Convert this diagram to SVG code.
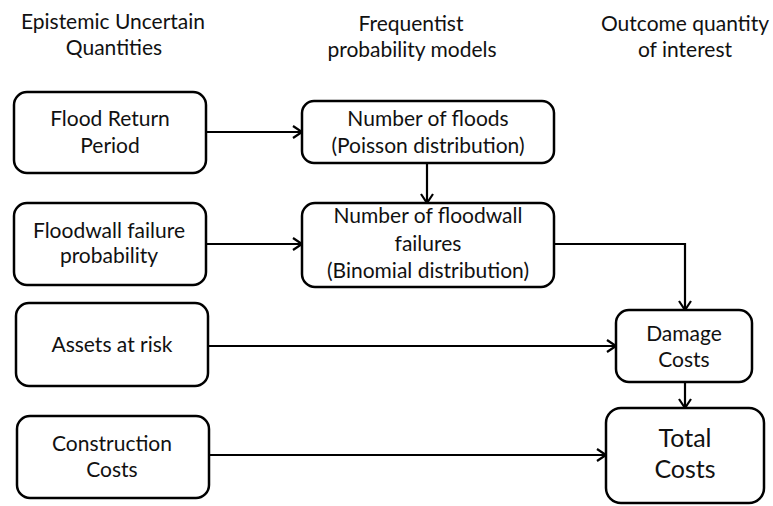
<svg xmlns="http://www.w3.org/2000/svg" width="773" height="506" viewBox="0 0 773 506">
<style>
.box{fill:#fff;stroke:#000;stroke-width:2.5}
.t{font-family:Lato,"Liberation Sans",sans-serif;font-size:21px;fill:#111;text-anchor:middle}
.big{font-size:25px}
.c{fill:none;stroke:#000;stroke-width:2.2}
</style>
<defs>
<marker id="ah" markerUnits="userSpaceOnUse" markerWidth="12" markerHeight="14" refX="10" refY="7" orient="auto">
<path d="M1,1 L10,7 L1,13" fill="none" stroke="#000" stroke-width="2.2"/>
</marker>
</defs>
<rect width="773" height="506" fill="#fff"/>
<g id="headers">
<text class="t" x="113" y="29">Epistemic Uncertain</text>
<text class="t" x="114" y="55">Quantities</text>
<text class="t" x="411" y="31">Frequentist</text>
<text class="t" x="412" y="57">probability models</text>
<text class="t" x="685" y="31">Outcome quantity</text>
<text class="t" x="685" y="57">of interest</text>
</g>
<g id="connectors">
<path class="c" d="M206,132 H302" marker-end="url(#ah)"/>
<path class="c" d="M206,244 H302" marker-end="url(#ah)"/>
<path class="c" d="M427,163 V203" marker-end="url(#ah)"/>
<path class="c" d="M554,244 H685 V310" marker-end="url(#ah)"/>
<path class="c" d="M208,346 H616" marker-end="url(#ah)"/>
<path class="c" d="M685,382 V408" marker-end="url(#ah)"/>
<path class="c" d="M209,455 H606" marker-end="url(#ah)"/>
</g>
<g id="flood-return-period">
<rect class="box" x="14" y="92" width="192" height="81" rx="13"/>
<text class="t" x="110" y="126">Flood Return</text>
<text class="t" x="110" y="153">Period</text>
</g>
<g id="floodwall-failure-probability">
<rect class="box" x="14" y="203" width="192" height="82" rx="13"/>
<text class="t" x="109" y="238">Floodwall failure</text>
<text class="t" x="109" y="263">probability</text>
</g>
<g id="assets-at-risk">
<rect class="box" x="16" y="303" width="192" height="83" rx="13"/>
<text class="t" x="112" y="352">Assets at risk</text>
</g>
<g id="construction-costs">
<rect class="box" x="17" y="416" width="192" height="82" rx="13"/>
<text class="t" x="112" y="451">Construction</text>
<text class="t" x="112" y="477">Costs</text>
</g>
<g id="number-of-floods">
<rect class="box" x="302" y="101" width="252" height="62" rx="12"/>
<text class="t" x="428" y="126">Number of floods</text>
<text class="t" x="428" y="153">(Poisson distribution)</text>
</g>
<g id="number-of-floodwall-failures">
<rect class="box" x="302" y="203" width="252" height="84" rx="13"/>
<text class="t" x="428" y="223">Number of floodwall</text>
<text class="t" x="428" y="251">failures</text>
<text class="t" x="428" y="278">(Binomial distribution)</text>
</g>
<g id="damage-costs">
<rect class="box" x="616" y="310" width="136" height="72" rx="13"/>
<text class="t" x="684" y="341">Damage</text>
<text class="t" x="684" y="367">Costs</text>
</g>
<g id="total-costs">
<rect class="box" x="606" y="408" width="158" height="95" rx="15"/>
<text class="t big" x="685" y="447">Total</text>
<text class="t big" x="685" y="478">Costs</text>
</g>
</svg>
